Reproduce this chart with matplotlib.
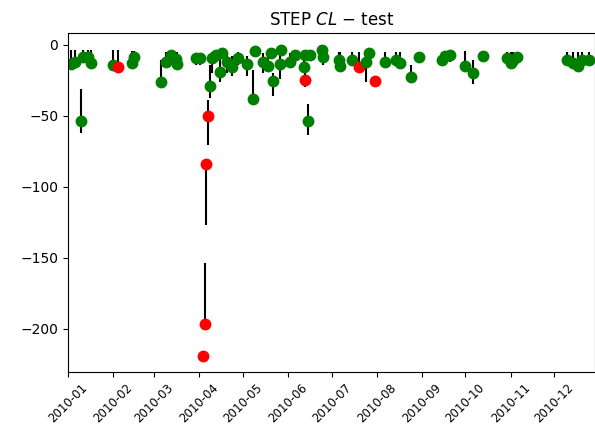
import matplotlib
matplotlib.use('Agg')
import matplotlib.pyplot as plt
import matplotlib.dates as mdates
import numpy as np

# day of year (0 = 2010-01-01), value, line bottom, line top, colour
days = [2, 5, 9, 10, 14, 16,
        31, 34, 44, 45,
        64, 67, 71, 74, 75,
        88, 91, 93, 94, 95, 96, 97.6, 98.8, 102, 104.5, 105.7, 109, 112.5, 117,
        123, 127.4, 128.5, 134, 137.7, 139.6, 141, 145.8, 146.4, 152.6, 156,
        161.8, 162.5, 163, 165, 166,
        174.4, 175.5, 186, 187, 195, 200, 205, 207, 211,
        218, 225, 228, 235.8, 241,
        257, 259, 262.6, 273, 278, 285,
        301.6, 304, 306, 308.5,
        343, 347, 350, 353, 358]
vals = [-13.8, -12, -53.5, -8.5, -9, -13,
        -14.3, -15.5, -13, -8.4,
        -26.5, -12, -7.6, -10, -13.5,
        -9.6, -9.6, -219.5, -197, -84, -50, -28.8, -9.6, -7.2, -19.5, -6, -12, -15.5, -9.6,
        -13.5, -38.2, -4.4, -12, -14.8, -6, -25.5, -13.5, -3.7, -12, -7.2,
        -15.5, -7.2, -24.8, -53.5, -7.2,
        -3.7, -8.4, -10.8, -14.8, -10.8, -15.5, -12, -6, -25.5,
        -12.4, -10.8, -13, -23, -8.4,
        -10.8, -7.7, -7.2, -14.8, -20, -7.7,
        -9.1, -13, -10.8, -8.4,
        -10.8, -13, -14.8, -10.8, -10.8]
lo = [-13.8, -12, -62, -8.5, -9, -13,
      -14.3, -15.5, -13, -8.4,
      -26.5, -12, -7.6, -10, -13.5,
      -14, -14, -219.5, -197, -127, -71, -37.5, -20, -12, -26, -6, -20, -22, -14,
      -22, -38.2, -4.4, -20, -14.8, -10, -36, -24, -6, -15, -12,
      -20, -10, -30, -63.5, -10,
      -8, -14, -10.8, -14.8, -10.8, -15.5, -26, -6, -25.5,
      -12.4, -10.8, -13, -27, -13,
      -10.8, -7.7, -12, -14.8, -28, -12,
      -9.1, -13, -13, -8.4,
      -10.8, -13, -14.8, -13, -13]
hi = [-4, -4, -31, -4, -4, -4,
      -4, -4, -4.3, -4.3,
      -10.8, -5, -5, -5, -5,
      -6, -6, -219.5, -154, -84, -39, -14, -5, -4, -10, -4, -6, -8, -5,
      -8, -17.8, -3, -6, -6, -4, -20, -8, -3, -6, -4,
      -8, -4, -18, -42, -4,
      -3, -5, -5, -5, -5, -5, -5, -4, -25.5,
      -5, -5, -5, -14, -5,
      -5, -5, -5, -4.5, -11, -5,
      -5, -5, -5, -5,
      -5, -5, -5, -5, -5]
red_days = [34, 93, 94, 95, 96, 163, 200, 211]
colors = ['red' if d in red_days else 'green' for d in days]

start = np.datetime64('2010-01-01T00:00')
dates = [start + np.timedelta64(int(d * 24 * 60), 'm') for d in days]
dates = np.array(dates).astype('datetime64[m]').astype(object)

fig = plt.figure(figsize=(5.95, 4.29), dpi=100)
ax = fig.add_axes([0.1143, 0.133, 0.8857, 0.79])

ax.vlines(dates, lo, hi, colors='k', linewidth=1.5, zorder=1)
for d, v, c in zip(dates, vals, colors):
  ax.plot(d, v, 'o', color=c, markersize=7.5, zorder=2)

ax.set_xlim(np.datetime64('2010-01-01').astype(object), np.datetime64('2010-12-29').astype(object))
ax.set_ylim(-230.5, 8.2)
ax.xaxis.set_major_locator(mdates.MonthLocator())
ax.xaxis.set_major_formatter(mdates.DateFormatter('%Y-%m'))
plt.setp(ax.get_xticklabels(), rotation=45, fontsize=8.5)
ax.set_title(r'STEP $CL$ $-$ test')

fig.savefig('out.png', dpi=100)
